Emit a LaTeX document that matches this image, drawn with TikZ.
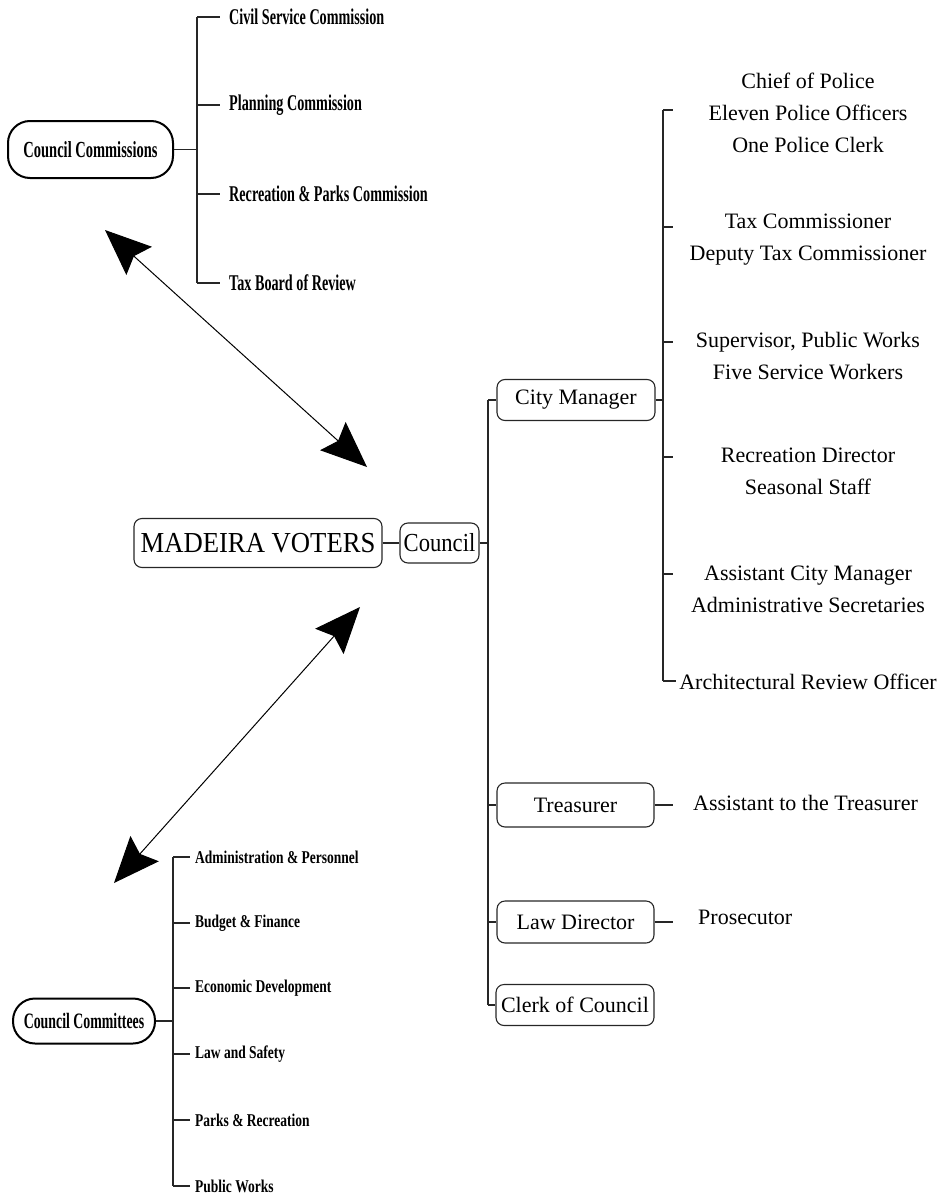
\documentclass[tikz,border=0pt]{standalone}
\usepackage{fontspec}
\setmainfont{Liberation Serif}
\newfontfamily\fMad[FakeStretch=0.92]{Liberation Serif}
\newfontfamily\fCou[FakeStretch=0.87]{Liberation Serif}
\newfontfamily\fCond[FakeStretch=0.63]{Liberation Serif}
\newfontfamily\fCondB[FakeStretch=0.75]{Liberation Serif}
\usetikzlibrary{arrows.meta}
\begin{document}
\begin{tikzpicture}[x=1pt,y=-1pt,
  conn/.style={line width=1.1pt, draw=black!85},
  box/.style={draw=black!85, line width=1.1pt, rounded corners=8pt, inner sep=0pt,
     font=\fontsize{22}{26}\selectfont},
  pill/.style={draw=black, line width=2pt, rounded corners=22pt, inner sep=0pt,
     font=\fCond\bfseries\fontsize{23}{26}\selectfont},
  comm/.style={anchor=west, inner sep=0pt, font=\fCond\bfseries\fontsize{22.5}{26}\selectfont},
  cmte/.style={anchor=west, inner sep=0pt, font=\fCondB\bfseries\fontsize{18}{22}\selectfont},
  staff/.style={align=center, inner sep=0pt, font=\fontsize{22}{32}\selectfont},
  side/.style={anchor=west, inner sep=0pt, font=\fontsize{22}{26}\selectfont},
  bigarrow/.style={line width=1pt, {Stealth[length=46pt,width=38pt,inset=7pt]}-{Stealth[length=46pt,width=38pt,inset=7pt]}}
]
\useasboundingbox (0,0) rectangle (940,1199);

% ---------- Council Commissions ----------
\node[pill, minimum width=165pt, minimum height=57pt] (ccom) at (90.5,149.5) {Council Commissions};
\node[comm] (cm1) at (229,17) {Civil Service Commission};
\node[comm] (cm2) at (229,105) {Planning Commission};
\node[comm] (cm3) at (229,194) {Recreation \& Parks Commission};
\node[comm] (cm4) at (229,283) {Tax Board of Review};
\coordinate (ks1) at (197,17);
\coordinate (ks2) at (197,105);
\coordinate (ks3) at (197,194);
\coordinate (ks4) at (197,283);
\draw[conn] (ks1) -- (ks4);
\draw[conn] (ccom.east) -- (ccom.east -| ks1);
\draw[conn] (ks1) -- ([xshift=-9pt]cm1.west);
\draw[conn] (ks2) -- ([xshift=-9pt]cm2.west);
\draw[conn] (ks3) -- ([xshift=-9pt]cm3.west);
\draw[conn] (ks4) -- ([xshift=-9pt]cm4.west);

% ---------- Council Committees ----------
\node[pill, minimum width=142pt, minimum height=45pt, font=\fCond\bfseries\fontsize{22}{26}\selectfont] (ccmt) at (84,1021) {Council Committees};
\node[cmte] (ct1) at (195,857) {Administration \& Personnel};
\node[cmte] (ct2) at (195,923) {Budget \& Finance};
\node[cmte] (ct3) at (195,988) {Economic Development};
\node[cmte] (ct4) at (195,1054) {Law and Safety};
\node[cmte] (ct5) at (195,1120) {Parks \& Recreation};
\node[cmte] (ct6) at (195,1186) {Public Works};
\coordinate (kt1) at (173,857);
\coordinate (kt2) at (173,923);
\coordinate (kt3) at (173,988);
\coordinate (kt4) at (173,1054);
\coordinate (kt5) at (173,1120);
\coordinate (kt6) at (173,1186);
\draw[conn] (kt1) -- (kt6);
\draw[conn] (ccmt.east) -- (ccmt.east -| kt1);
\draw[conn] (kt1) -- ([xshift=-5pt]ct1.west);
\draw[conn] (kt2) -- ([xshift=-5pt]ct2.west);
\draw[conn] (kt3) -- ([xshift=-5pt]ct3.west);
\draw[conn] (kt4) -- ([xshift=-5pt]ct4.west);
\draw[conn] (kt5) -- ([xshift=-5pt]ct5.west);
\draw[conn] (kt6) -- ([xshift=-5pt]ct6.west);

% ---------- Arrows ----------
\coordinate (a1s) at (105,230);
\coordinate (a1e) at (367,467);
\coordinate (a2s) at (114,883);
\coordinate (a2e) at (360,607);
\draw[bigarrow] (a1s) -- (a1e);
\draw[bigarrow] (a2s) -- (a2e);

% ---------- Voters & Council ----------
\node[box, minimum width=248pt, minimum height=49pt, font=\fMad\fontsize{29}{32}\selectfont] (vot) at (258,543) {MADEIRA VOTERS};
\node[box, minimum width=79pt, minimum height=40pt, font=\fCou\fontsize{26}{30}\selectfont] (cou) at (439.5,543) {Council};
\draw[conn] (vot) -- (cou);
\coordinate (sp1) at (488,400);
\coordinate (sp2) at (488,805);
\coordinate (sp3) at (488,922);
\coordinate (sp4) at (488,1005);
\draw[conn] (cou.east) -- (cou.east -| sp1);
\draw[conn] (sp1) -- (sp4);

\node[box, minimum width=158pt, minimum height=41pt] (cm) at (576,400) {City Manager};
\node[box, minimum width=157pt, minimum height=44pt] (tre) at (575.5,805) {Treasurer};
\node[box, minimum width=157pt, minimum height=42pt] (law) at (575.5,922) {Law Director};
\node[box, minimum width=158pt, minimum height=41pt] (clk) at (575,1005) {Clerk of Council};
\draw[conn] (sp1) -- (cm.west);
\draw[conn] (sp2) -- (tre.west);
\draw[conn] (sp3) -- (law.west);
\draw[conn] (sp4) -- (clk.west);

% ---------- Treasurer / Law Director ----------
\node[side] (ast) at (693,803) {Assistant to the Treasurer};
\node[side] (pro) at (698,917) {Prosecutor};
\coordinate (te) at (673,805);
\coordinate (le) at (673,922);
\draw[conn] (tre.east) -- (te);
\draw[conn] (law.east) -- (le);

% ---------- City Manager staff ----------
\coordinate (r1) at (663,110);
\coordinate (r2) at (663,227);
\coordinate (r3) at (663,342);
\coordinate (r4) at (663,457);
\coordinate (r5) at (663,574);
\coordinate (r6) at (663,681);
\draw[conn] (cm.east) -- (cm.east -| r1);
\draw[conn] (r1) -- (r6);
\node[staff] (g1) at (808,113) {Chief of Police\\Eleven Police Officers\\One Police Clerk};
\node[staff] (g2) at (808,239.5) {Tax Commissioner\\Deputy Tax Commissioner};
\node[staff] (g3) at (808,356) {Supervisor, Public Works\\Five Service Workers};
\node[staff] (g4) at (808,471.5) {Recreation Director\\Seasonal Staff};
\node[staff] (g5) at (808,589) {Assistant City Manager\\Administrative Secretaries};
\node[staff] (g6) at (808,682) {Architectural Review Officer};
\draw[conn] (r1) -- ++(10,0);
\draw[conn] (r2) -- ++(10,0);
\draw[conn] (r3) -- ++(10,0);
\draw[conn] (r4) -- ++(10,0);
\draw[conn] (r5) -- ++(10,0);
\draw[conn] (r6) -- ([xshift=-3pt]g6.west |- r6);
\end{tikzpicture}
\end{document}
